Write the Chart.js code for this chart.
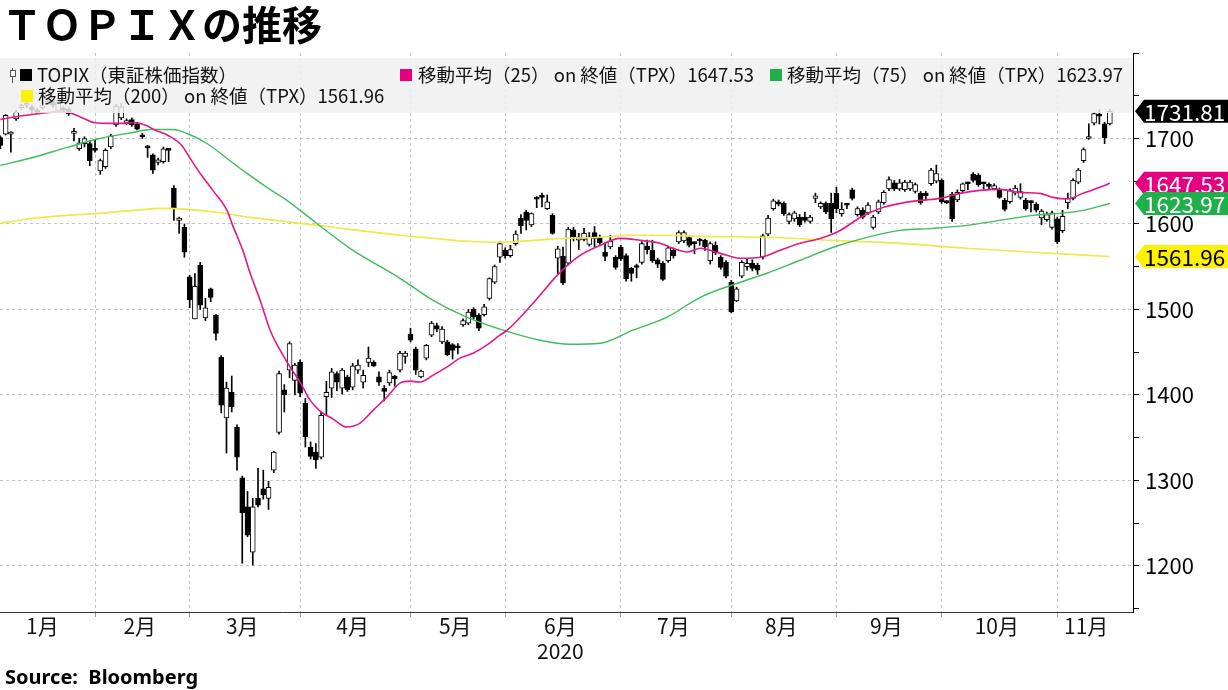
<!DOCTYPE html>
<html><head><meta charset="utf-8">
<script src="https://cdn.jsdelivr.net/npm/chart.js@4/dist/chart.umd.min.js"></script>
<style>
html,body{margin:0;padding:0;background:#fff;}
#wrap{position:relative;width:1228px;height:690px;overflow:hidden;background:#fff;}
canvas{position:absolute;left:0;top:0;}
#title{position:absolute;left:2px;top:2px;font-family:"Noto Sans CJK JP";font-weight:bold;font-size:40px;line-height:42px;color:#000;white-space:nowrap;}
#source{position:absolute;left:5px;top:665px;font-family:"Noto Sans","Noto Sans CJK JP";font-weight:bold;font-size:20px;line-height:24px;color:#000;white-space:pre;}
</style></head><body>
<div id="wrap">
<canvas id="c" width="1228" height="690" style="width:1228px;height:690px"></canvas>
<div id="title">ＴＯＰＩＸの推移</div>
<div id="source">Source:  Bloomberg</div>
</div>
<script>
// ---------------- data ----------------
const candleOpen = [1701,1705,1705,1723,1736,1739,1737,1733,1736,1741,1742,1732,1735,1734,1706,1688,1694,1694,1688,1662,
1667,1690,1716,1724,1718,1722,1717,1704,1690,1681,1672,1673,1687,1642,1604,1596,1538,1489,1552,1490,
1524,1493,1444,1373,1403,1362,1303,1269,1216,1279,1290,1279,1312,1356,1406,1429,1417,1438,1390,1339,
1333,1327,1398,1408,1425,1408,1421,1409,1429,1415,1438,1438,1421,1408,1414,1422,1429,1445,1471,1454,
1421,1443,1470,1481,1462,1462,1459,1457,1482,1484,1500,1493,1494,1513,1532,1561,1569,1563,1577,1607,
1614,1599,1631,1633,1618,1610,1560,1562,1554,1593,1581,1582,1576,1590,1584,1567,1573,1561,1573,1563,
1548,1551,1555,1574,1569,1558,1554,1557,1569,1579,1580,1584,1578,1582,1581,1557,1575,1561,1555,1532,
1510,1539,1550,1554,1552,1561,1588,1618,1626,1624,1603,1606,1608,1608,1603,1630,1620,1624,1624,1636,
1612,1623,1640,1611,1616,1613,1596,1614,1625,1641,1648,1641,1640,1641,1638,1636,1636,1647,1650,1651,
1626,1635,1628,1639,1648,1658,1657,1648,1646,1641,1640,1628,1626,1636,1631,1628,1626,1623,1607,1605,
1596,1606,1592,1625,1630,1649,1674,1700,1718,1727,1717,1717];
const candleHigh = [1703,1728,1708,1733,1740,1744,1739,1735,1741,1746,1745,1745,1737,1736,1712,1700,1702,1697,1698,1676,
1688,1705,1740,1741,1723,1724,1719,1706,1692,1682,1677,1690,1688,1645,1608,1600,1540,1542,1555,1513,
1525,1494,1446,1415,1422,1365,1305,1287,1279,1314,1312,1299,1334,1428,1412,1462,1437,1441,1396,1345,
1343,1380,1416,1431,1427,1431,1423,1437,1441,1429,1456,1440,1427,1411,1429,1423,1451,1451,1478,1456,
1429,1459,1486,1484,1480,1464,1460,1460,1489,1500,1502,1495,1506,1537,1552,1579,1572,1575,1592,1611,
1616,1613,1632,1636,1634,1612,1574,1573,1596,1596,1589,1595,1590,1597,1587,1578,1587,1563,1575,1565,
1549,1553,1579,1581,1581,1560,1556,1574,1572,1592,1592,1586,1579,1583,1582,1579,1579,1563,1557,1534,
1526,1557,1559,1558,1554,1588,1610,1629,1628,1626,1613,1615,1611,1614,1610,1636,1626,1626,1636,1643,
1625,1624,1642,1620,1619,1625,1610,1628,1639,1655,1651,1652,1651,1651,1648,1638,1638,1665,1669,1653,
1627,1637,1640,1648,1649,1660,1659,1649,1648,1647,1642,1630,1641,1645,1647,1630,1627,1625,1617,1614,
1615,1608,1616,1636,1653,1665,1689,1717,1731,1734,1719,1734];
const candleLow = [1688,1704,1684,1721,1734,1736,1730,1729,1734,1739,1737,1731,1731,1727,1697,1686,1690,1668,1684,1658,
1665,1688,1714,1722,1716,1714,1710,1700,1678,1659,1669,1671,1673,1604,1589,1561,1502,1489,1500,1487,
1509,1464,1379,1332,1380,1312,1203,1234,1201,1269,1278,1266,1309,1354,1380,1420,1400,1398,1339,1325,
1314,1325,1376,1397,1405,1401,1404,1406,1425,1408,1433,1433,1411,1393,1411,1410,1427,1437,1462,1424,
1420,1441,1468,1474,1460,1446,1442,1448,1480,1482,1489,1475,1492,1511,1530,1555,1560,1561,1575,1589,
1593,1597,1619,1620,1617,1588,1542,1529,1552,1580,1570,1580,1574,1573,1576,1557,1571,1547,1557,1533,
1533,1537,1553,1565,1555,1549,1534,1555,1560,1577,1578,1573,1565,1575,1569,1553,1564,1547,1537,1496,
1509,1537,1546,1545,1541,1559,1586,1616,1621,1610,1600,1603,1597,1602,1601,1625,1618,1612,1590,1613,
1609,1618,1628,1609,1606,1611,1594,1612,1623,1639,1639,1639,1638,1639,1636,1623,1628,1645,1648,1624,
1624,1603,1626,1637,1640,1649,1644,1641,1641,1640,1630,1615,1624,1634,1629,1616,1614,1614,1599,1603,
1594,1577,1590,1618,1628,1647,1672,1699,1716,1717,1694,1716];
const candleClose = [1692,1727,1707,1731,1737,1740,1733,1731,1738,1743,1739,1744,1733,1729,1708,1695,1700,1674,1686,1674,
1686,1703,1738,1737,1721,1716,1711,1702,1689,1663,1675,1688,1686,1618,1607,1567,1511,1527,1505,1502,
1514,1472,1388,1408,1386,1327,1262,1236,1269,1271,1283,1292,1333,1425,1400,1460,1435,1402,1351,1328,
1324,1376,1403,1427,1415,1429,1406,1434,1435,1423,1443,1434,1415,1404,1426,1419,1449,1449,1464,1429,
1428,1458,1484,1477,1477,1447,1452,1455,1487,1497,1491,1478,1503,1536,1550,1577,1563,1570,1588,1598,
1604,1612,1629,1631,1626,1589,1571,1531,1594,1585,1584,1589,1585,1583,1578,1562,1580,1549,1559,1536,
1542,1549,1577,1570,1557,1553,1535,1572,1563,1590,1590,1575,1577,1580,1573,1577,1566,1549,1539,1497,
1524,1555,1554,1548,1546,1586,1607,1627,1623,1612,1611,1613,1599,1604,1608,1633,1624,1614,1606,1618,
1617,1622,1630,1618,1608,1622,1608,1626,1637,1652,1641,1648,1649,1649,1646,1625,1633,1663,1659,1626,
1625,1606,1637,1647,1647,1651,1646,1647,1644,1645,1631,1617,1639,1642,1638,1618,1625,1616,1615,1611,
1613,1579,1609,1630,1651,1663,1687,1702,1729,1726,1701,1731.81];

const ma25Idx = [0,3.7,7.5,11.3,13.2,15.1,18,20.9,23.7,25.6,27.5,29.4,31.9,34.5,36.1,38,40.4,43.1,44.2,46.1,47.5,49.4,51.3,53.2,55.1,57,58.9,60.8,63.3,65.9,68.4,70.9,73.5,76,77.9,79.8,82.3,84.9,87.4,89.9,92.5,95,96.4,101.3,105.9,109.7,114.1,117.8,121.7,125.5,127.9,130.6,133.1,136.9,140.7,144.5,148.3,152.1,155.9,159.7,163.5,167.3,171.1,174.9,178.7,182.5,186.3,190.1,193.9,197.7,200.2,202.9,205.9,209.1,211];
const ma25Val = [1722.3,1726.2,1729.3,1731.3,1730.1,1725.5,1718.4,1717.7,1717.7,1718.4,1715.7,1709.9,1703.5,1691.8,1676.6,1659.1,1639.3,1615.9,1598,1569.2,1542.3,1510.7,1475.7,1452.3,1432.5,1415,1393.9,1381.1,1371.7,1362.4,1367,1382.2,1397.4,1413.8,1416.1,1415,1423.1,1432.5,1443,1448.8,1458.2,1469.9,1475.7,1507.2,1539.9,1560.9,1575,1583.1,1580.8,1577.3,1571.5,1567.2,1571.5,1565.6,1559.8,1561,1569.2,1577.3,1583.1,1592.4,1607.6,1618.2,1624,1627.6,1629.9,1635.8,1639.3,1640.4,1636.9,1635.8,1631.1,1629.3,1635.8,1642.8,1647.53];
const ma75Idx = [0,6.2,12.7,18.9,25.2,28.5,32.8,35.5,39.3,43.1,46.9,50.7,54.5,57,66.5,76,82.3,88.7,95,102.6,108.3,114.1,120.3,126.8,133.1,140.7,145.8,152.1,158.4,164.8,171.1,177.4,183.8,190.1,196.4,202.9,205.9,211];
const ma75Val = [1668.4,1677.8,1689.5,1700,1707,1710.5,1710.5,1705.8,1694.1,1676.6,1659.1,1642.7,1627.6,1615.9,1571.5,1536.4,1510.7,1490.9,1476.9,1464,1459.3,1460.5,1475.7,1490.9,1514.2,1531.8,1542.3,1557.5,1572.7,1584.3,1592.5,1594.8,1598.3,1604.2,1610,1613.2,1615.9,1623.97];
const ma200Idx = [0,6.2,12.7,18.9,25.2,31.7,35.5,41.2,47.5,53.8,57,66.5,76,82.3,88.7,95,101.3,107.8,114.1,120.3,126.8,133.1,145.8,158.4,171.1,183.8,196.4,211];
const ma200Val = [1600.7,1606.6,1610.1,1612.4,1615.9,1618.2,1617.1,1613.6,1607.7,1603.1,1600.7,1593.7,1586.7,1583.2,1579.7,1578.5,1580.8,1583.2,1584.4,1586.7,1586.7,1585.5,1584.4,1580.8,1577.3,1571.5,1566.8,1561.96];

const monthBounds = [-1,18,36,57,78,96,118,139,159,179,201,213];   // first trading-day index of each month
const monthLabels = ['1月','2月','3月','4月','5月','6月','7月','8月','9月','10月','11月'];
const yearLabel = '2020';
const yearMonth = '6月';
const yTickValues = [1150,1200,1250,1300,1350,1400,1450,1500,1550,1600,1650,1700,1750,1800];
const yLabelValues = [1200,1300,1400,1500,1600,1700];

const seriesNames = ['TOPIX（東証株価指数）','移動平均（25） on 終値（TPX）','移動平均（75） on 終値（TPX）','移動平均（200） on 終値（TPX）'];

// ---------------- styling ----------------
const FONT = '"Noto Sans CJK JP", "Noto Sans", sans-serif';
const COL = {black:'#000000', ma25:'#e5178b', ma75:'#3dbd5b', ma200:'#f2e845',
             tag25:'#e4007f', tag75:'#1fb04a', tag200:'#fff200', grid:'#c4c4c4'};

const idx = candleOpen.map((_, i) => i);
const bodyData = idx.map(i => ({x: i, y: [candleOpen[i], candleClose[i]]}));
const wickData = idx.map(i => ({x: i, y: [candleLow[i], candleHigh[i]]}));
const bodyFill = idx.map(i => candleClose[i] >= candleOpen[i] ? '#ffffff' : '#000000');
const pts = (xs, ys) => xs.map((x, k) => ({x, y: ys[k]}));

const monthStarts = monthBounds.slice(1, -1);
const xTicks = [];
monthStarts.forEach(v => xTicks.push({value: v, kind: 'start'}));
monthLabels.forEach((m, k) => {
  const c = (monthBounds[k] + monthBounds[k + 1] - 1) / 2;
  xTicks.push({value: c, kind: 'label', lbl: m === yearMonth ? [m, yearLabel] : m});
});
xTicks.sort((a, b) => a.value - b.value);
const startSet = new Set(monthStarts);

const lastClose = candleClose[candleClose.length - 1];
const last25 = ma25Val[ma25Val.length - 1];
const last75 = ma75Val[ma75Val.length - 1];
const last200 = ma200Val[ma200Val.length - 1];

const overlayPlugin = {
  id: 'overlay',
  afterDatasetsDraw(chart) {
    const ctx = chart.ctx, ca = chart.chartArea;
    ctx.save();
    ctx.fillStyle = 'rgba(240,240,240,0.84)';
    ctx.fillRect(ca.left, 58, ca.right - ca.left, 55);
    // tiny candle icon
    ctx.strokeStyle = '#555'; ctx.lineWidth = 1;
    ctx.beginPath(); ctx.moveTo(12.5, 68); ctx.lineTo(12.5, 83); ctx.stroke();
    ctx.fillStyle = '#fff'; ctx.fillRect(10.5, 70.5, 5, 6); ctx.strokeRect(10.5, 70.5, 5, 6);
    const row1 = 75, row2 = 96;
    const items = [
      {sq: COL.black, sx: 20, tx: 37, y: row1, t: seriesNames[0]},
      {sq: COL.tag25, sx: 400, tx: 418, y: row1, t: seriesNames[1] + last25.toFixed(2)},
      {sq: COL.tag75, sx: 770, tx: 787, y: row1, t: seriesNames[2] + last75.toFixed(2)},
      {sq: COL.tag200, sx: 21, tx: 38, y: row2, t: seriesNames[3] + last200.toFixed(2)}
    ];
    ctx.font = '18.5px ' + FONT;
    ctx.textBaseline = 'middle';
    items.forEach(it => {
      ctx.fillStyle = it.sq;
      ctx.fillRect(it.sx, it.y - 6, 12, 12);
      ctx.fillStyle = '#111';
      ctx.fillText(it.t, it.tx, it.y);
    });
    ctx.restore();
  },
  afterDraw(chart) {
    const ctx = chart.ctx, y = chart.scales.y, ca = chart.chartArea;
    const tags = [
      {v: last200, bg: COL.tag200, fg: '#000'},
      {v: last25, bg: COL.tag25, fg: '#fff'},
      {v: last75, bg: COL.tag75, fg: '#fff'},
      {v: lastClose, bg: '#000', fg: '#fff'}
    ];
    ctx.save();
    ctx.font = '22.5px ' + FONT;
    ctx.textBaseline = 'middle';
    tags.forEach(t => {
      const py = y.getPixelForValue(t.v), h = 23;
      const x0 = ca.right + 2, x1 = x0 + 9, x2 = 1228;
      ctx.beginPath();
      ctx.moveTo(x0, py); ctx.lineTo(x1, py - h / 2); ctx.lineTo(x2, py - h / 2);
      ctx.lineTo(x2, py + h / 2); ctx.lineTo(x1, py + h / 2); ctx.closePath();
      ctx.fillStyle = t.bg; ctx.fill();
      ctx.fillStyle = t.fg;
      ctx.fillText(t.v.toFixed(2), x1 + 0, py + 1);
    });
    ctx.restore();
  }
};

new Chart(document.getElementById('c'), {
  type: 'bar',
  data: {
    datasets: [
      {type: 'line', label: 'ma25', data: pts(ma25Idx, ma25Val), borderColor: COL.ma25, borderWidth: 1.6,
       pointRadius: 0, cubicInterpolationMode: 'monotone', order: 0},
      {type: 'line', label: 'ma75', data: pts(ma75Idx, ma75Val), borderColor: COL.ma75, borderWidth: 1.4,
       pointRadius: 0, cubicInterpolationMode: 'monotone', order: 0},
      {type: 'line', label: 'ma200', data: pts(ma200Idx, ma200Val), borderColor: COL.ma200, borderWidth: 1.6,
       pointRadius: 0, cubicInterpolationMode: 'monotone', order: 0},
      {type: 'bar', label: 'body', data: bodyData, backgroundColor: bodyFill, borderColor: '#000', borderWidth: 1,
       borderSkipped: false, barThickness: 5, grouped: false, minBarLength: 2, order: 1},
      {type: 'bar', label: 'wick', data: wickData, backgroundColor: '#000', borderWidth: 0,
       barThickness: 1, grouped: false, order: 2}
    ]
  },
  options: {
    responsive: false,
    animation: false,
    devicePixelRatio: 1,
    events: [],
    layout: {padding: {top: 53, left: 0, right: 0, bottom: 0}},
    plugins: {legend: {display: false}, tooltip: {enabled: false}, title: {display: false}},
    scales: {
      x: {
        type: 'linear', position: 'bottom', min: -0.07, max: 215.4, offset: false,
        afterBuildTicks: s => { s.ticks = xTicks.map(t => Object.assign({}, t)); },
        afterFit: s => { s.height = 78; },
        grid: {
          offset: false, lineWidth: 1, drawTicks: true, tickLength: 5,
          color: c => (c.tick && startSet.has(c.tick.value)) ? COL.grid : 'rgba(0,0,0,0)',
          tickColor: c => (c.tick && startSet.has(c.tick.value)) ? '#999' : 'rgba(0,0,0,0)'
        },
        border: {display: true, color: '#333', width: 1, dash: [3, 3]},
        ticks: {
          autoSkip: false, maxRotation: 0, minRotation: 0, padding: -3, color: '#111',
          font: {family: FONT, size: 21, lineHeight: 1.19},
          callback: function (v, i, t) { return t[i] && t[i].lbl ? t[i].lbl : ''; }
        }
      },
      y: {
        type: 'linear', position: 'right', min: 1146, max: 1800,
        afterBuildTicks: s => { s.ticks = yTickValues.map(v => ({value: v})); },
        afterFit: s => { s.width = 95; },
        grid: {
          lineWidth: 1, drawTicks: true, tickLength: 6, tickColor: '#000',
          color: c => (c.tick && yLabelValues.includes(c.tick.value)) ? COL.grid : 'rgba(0,0,0,0)'
        },
        border: {display: true, color: '#000', width: 1, dash: [3, 3]},
        ticks: {
          autoSkip: false, padding: 6, color: '#000',
          font: {family: FONT, size: 22},
          callback: v => yLabelValues.includes(v) ? String(v) : ''
        }
      }
    }
  },
  plugins: [overlayPlugin]
});
</script>
</body></html>
